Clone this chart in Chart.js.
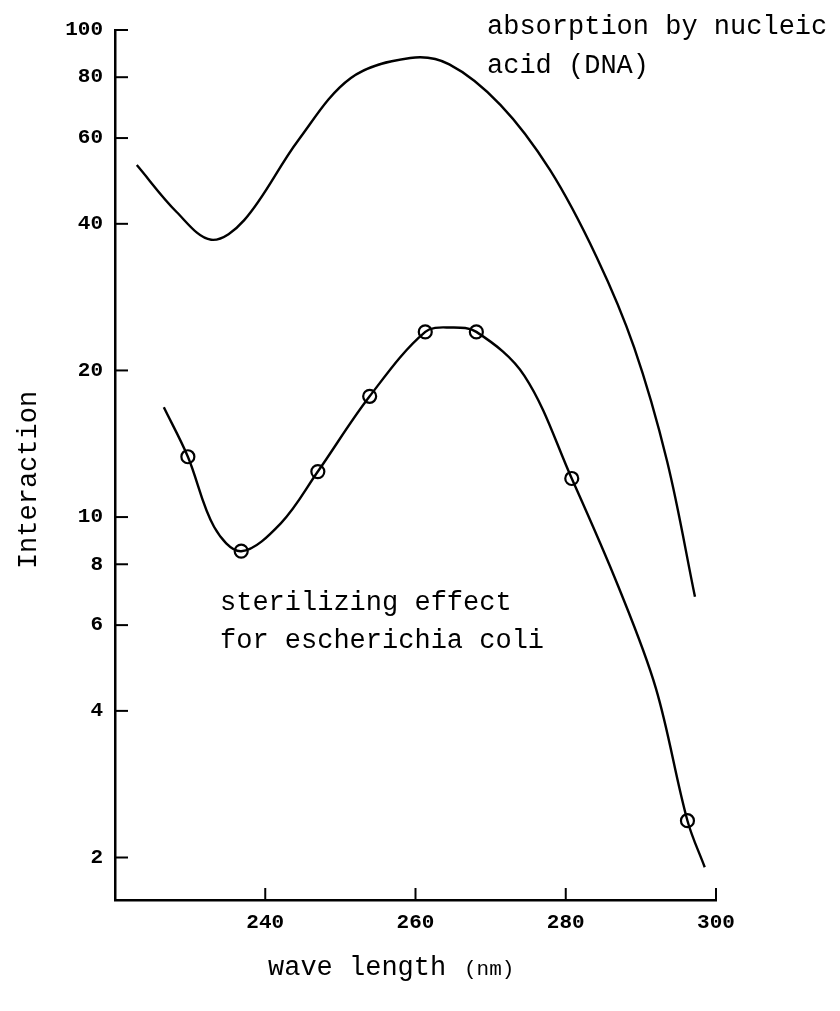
<!DOCTYPE html>
<html>
<head>
<meta charset="utf-8">
<script src="https://cdn.jsdelivr.net/npm/chart.js@4.4.1/dist/chart.umd.min.js"></script>
<style>
  html, body { margin: 0; padding: 0; background: #fff; }
  #wrap { width: 840px; height: 1011px; position: relative; }
</style>
</head>
<body>
<div id="wrap"><canvas id="uvChart"></canvas></div>
<script>
// 目盛り
const xTicks = [240, 260, 280, 300];
const yTicks = [2, 4, 6, 8, 10, 20, 40, 60, 80, 100];

// 核酸(DNA)の吸収
const dnaWave  = [222.9, 228.2, 232.8, 237.2, 244.4, 251.4, 259.3, 264.5, 271.3, 277.9, 284.1, 289.1, 293.5, 297.2];
const dnaValue = [52.8, 42.3, 37.1, 40.7, 59.4, 79.7, 87.6, 85.0, 70.2, 51.6, 34.2, 22.3, 13.0, 6.86];

// 大腸菌の殺菌効果（曲線）
const coliWave  = [226.5, 229.7, 233.2, 236.8, 242.1, 247.0, 253.9, 261.3, 264.7, 268.1, 274.5, 280.8, 287.0, 292.0, 296.2, 298.5];
const coliValue = [16.8, 13.3, 9.54, 8.51, 9.72, 12.4, 17.7, 24.0, 24.5, 24.0, 19.5, 12.0, 7.2, 4.45, 2.38, 1.91];

// 大腸菌の殺菌効果（測定点）
const markWave  = [229.7, 236.8, 247.0, 253.9, 261.3, 268.1, 280.8, 296.2];
const markValue = [13.3, 8.51, 12.4, 17.7, 24.0, 24.0, 12.0, 2.38];

const toXY = (xs, ys) => xs.map((x, i) => ({ x: x, y: ys[i] }));

const FONT = '"Liberation Mono", "DejaVu Sans Mono", monospace';

// 内向きの目盛り線と注記
const decoPlugin = {
    id: 'deco',
    afterDraw(chart) {
        const ctx = chart.ctx;
        const xs = chart.scales.x;
        const ys = chart.scales.y;
        const area = chart.chartArea;
        ctx.save();
        ctx.strokeStyle = '#000';
        ctx.lineWidth = 2;
        yTicks.forEach(v => {
            const py = ys.getPixelForValue(v);
            ctx.beginPath();
            ctx.moveTo(area.left, py);
            ctx.lineTo(area.left + 13, py);
            ctx.stroke();
        });
        xTicks.forEach(v => {
            const px = xs.getPixelForValue(v);
            ctx.beginPath();
            ctx.moveTo(px, area.bottom);
            ctx.lineTo(px, area.bottom - 12);
            ctx.stroke();
        });

        ctx.fillStyle = '#000';
        ctx.textBaseline = 'alphabetic';
        ctx.textAlign = 'left';
        ctx.font = '27px ' + FONT;
        ctx.fillText('absorption by nucleic', 487, 34);
        ctx.fillText('acid (DNA)', 487, 73);
        ctx.fillText('sterilizing effect', 220, 610);
        ctx.fillText('for escherichia coli', 220, 648);

        // 軸タイトル
        ctx.fillText('wave length', 268, 975);
        ctx.font = '21px ' + FONT;
        ctx.fillText('(nm)', 464, 975);

        ctx.translate(36, 480);
        ctx.rotate(-Math.PI / 2);
        ctx.textAlign = 'center';
        ctx.font = '27px ' + FONT;
        ctx.fillText('Interaction', 0, 0);
        ctx.restore();
    }
};

const ctx = document.getElementById('uvChart').getContext('2d');
const uvChart = new Chart(ctx, {
    type: 'line',
    data: {
        datasets: [
            {
                label: 'DNA',
                data: toXY(dnaWave, dnaValue),
                borderColor: '#000',
                borderWidth: 2.4,
                pointRadius: 0,
                tension: 0.35,
                fill: false
            },
            {
                label: 'E. coli',
                data: toXY(coliWave, coliValue),
                borderColor: '#000',
                borderWidth: 2.4,
                pointRadius: 0,
                tension: 0.35,
                fill: false
            },
            {
                label: 'E. coli points',
                data: toXY(markWave, markValue),
                showLine: false,
                pointRadius: 6.5,
                pointBackgroundColor: '#fff',
                pointBorderColor: '#000',
                pointBorderWidth: 2.2
            }
        ]
    },
    options: {
        responsive: true,
        maintainAspectRatio: false,
        animation: false,
        layout: {
            padding: { left: 0, top: 30, right: 124, bottom: 0 }
        },
        plugins: {
            legend: { display: false },
            tooltip: { enabled: false }
        },
        scales: {
            x: {
                type: 'linear',
                min: 220,
                max: 300,
                afterBuildTicks: s => { s.ticks = xTicks.map(v => ({ value: v })); },
                afterFit: s => { s.height = 111; },
                grid: { display: false, drawTicks: false },
                border: { display: true, color: '#000', width: 2.5 },
                ticks: {
                    color: '#000',
                    padding: 10,
                    maxRotation: 0,
                    font: { family: FONT, size: 21, weight: 'bold' },
                    callback: v => String(v)
                }
            },
            y: {
                type: 'logarithmic',
                min: 1.636,
                max: 100,
                afterBuildTicks: s => { s.ticks = yTicks.map(v => ({ value: v })); },
                afterFit: s => { s.width = 115; },
                grid: { display: false, drawTicks: false },
                border: { display: true, color: '#000', width: 2.5 },
                ticks: {
                    color: '#000',
                    padding: 12,
                    font: { family: FONT, size: 21, weight: 'bold' },
                    callback: v => String(v)
                }
            }
        }
    },
    plugins: [decoPlugin]
});
</script>
</body>
</html>
